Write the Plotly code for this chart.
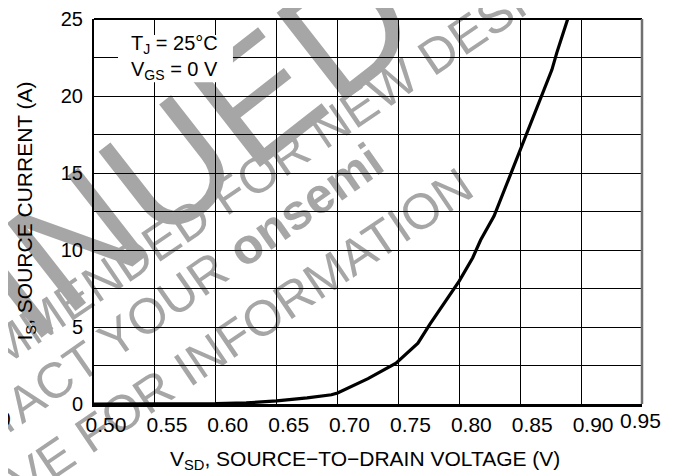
import plotly.graph_objects as go

# ---- data ----
vsd = [0.50, 0.55, 0.60, 0.625, 0.65, 0.675, 0.695, 0.70, 0.725, 0.748, 0.766, 0.776,
       0.80, 0.811, 0.8175, 0.8285, 0.848, 0.859, 0.870, 0.876, 0.880, 0.889]
i_s = [0.0, 0.0, 0.02, 0.07, 0.2, 0.4, 0.6, 0.72, 1.65, 2.65, 3.95, 5.2,
       8.0, 9.5, 10.65, 12.2, 16.1, 18.2, 20.4, 21.7, 22.8, 25.0]

x_ticks = [0.50, 0.55, 0.60, 0.65, 0.70, 0.75, 0.80, 0.85, 0.90, 0.95]
x_labels = ["0.50", "0.55", "0.60", "0.65", "0.70", "0.75", "0.80", "0.85", "0.90", "0.95"]
y_ticks = [0, 5, 10, 15, 20, 25]
y_labels = ["0", "5", "10", "15", "20", "25"]

x_title = "V<sub>SD</sub>, SOURCE\u2212TO\u2212DRAIN VOLTAGE (V)"
y_title = "I<sub>S</sub>, SOURCE CURRENT (A)"
cond_text = "T<sub>J</sub> = 25\u00b0C<br>V<sub>GS</sub> = 0 V"
wm_big = "DISCONTINUED"
wm_lines = ["NOT RECOMMENDED FOR NEW DESIGN",
            "PLEASE CONTACT YOUR <b>onsemi</b>",
            "REPRESENTATIVE FOR INFORMATION"]

FONT = "Liberation Sans, Arial, Helvetica, sans-serif"
WM = "#a6a6a6"

# the page body adds an 8 px offset; plot area in window pixels: x 94..642, y 19..404
OFF = 8
PL, PT, PR, PB = 94, 19, 642, 404
W, H = 674 - OFF, 476 - OFF
L, T = PL - OFF, PT - OFF
R, B = W - (PR - OFF), H - (PB - OFF)


def px2paper(px, py):
    return (px - PL) / (PR - PL), (PB - py) / (PB - PT)


fig = go.Figure()
fig.add_trace(go.Scatter(x=vsd, y=i_s, mode="lines",
                         line=dict(color="black", width=3.2),
                         hoverinfo="skip", showlegend=False))


def wm_shape(text, cx, cy, size, angle):
    xp, yp = px2paper(cx, cy)
    return dict(type="rect", xref="paper", yref="paper",
                x0=xp - 0.001, x1=xp + 0.001, y0=yp - 0.001, y1=yp + 0.001,
                line=dict(width=0), fillcolor="rgba(0,0,0,0)", layer="below",
                label=dict(text=text, textposition="middle center", textangle=-angle,
                           font=dict(size=size, color=WM, family=FONT)))


shapes = [
    wm_shape(wm_big, -103, 360, 162, 38),
    wm_shape(wm_lines[0], 175, 225, 50, 34),
    wm_shape(wm_lines[1], 50, 378, 50, 35),
    wm_shape(wm_lines[2], 82, 434, 50, 34),
    # white box behind the conditions text
    dict(type="rect", xref="x", yref="y", x0=0.5197, x1=0.6141, y0=20.9, y1=23.96,
         line=dict(width=0), fillcolor="white", layer="above"),
    # frame: top and right
    dict(type="line", xref="paper", yref="paper", x0=0, x1=1, y0=1, y1=1,
         line=dict(color="black", width=2), layer="above"),
    dict(type="line", xref="paper", yref="paper", x0=1, x1=1, y0=0, y1=1,
         line=dict(color="#707070", width=2.5), layer="above"),
]

annotations = [
    dict(text=cond_text, x=0.5287, y=22.5, xref="x", yref="y", xanchor="left",
         yanchor="middle", align="left", showarrow=False,
         font=dict(size=20, color="black", family=FONT)),
    dict(text=x_title, x=0.495, y=px2paper(0, 460)[1], xref="paper", yref="paper",
         xanchor="center", yanchor="middle", showarrow=False,
         font=dict(size=21, color="black", family=FONT)),
    dict(text=y_title, x=px2paper(25, 0)[0], y=0.5, xref="paper", yref="paper",
         xanchor="center", yanchor="middle", textangle=-90, showarrow=False,
         font=dict(size=21, color="black", family=FONT)),
    # last x tick label sits squeezed against the right edge
    dict(text=x_labels[-1], x=x_ticks[-1], y=px2paper(0, 421)[1], xref="x", yref="paper",
         xanchor="center", yanchor="middle", xshift=-2, showarrow=False,
         font=dict(size=21, color="black", family=FONT)),
    # clipped stray label at the far left
    dict(text="0", x=px2paper(13, 0)[0], y=px2paper(0, 419)[1], xref="paper", yref="paper",
         xanchor="right", yanchor="middle", showarrow=False,
         font=dict(size=21, color="black", family=FONT)),
]

fig.update_layout(
    width=W, height=H, autosize=False,
    margin=dict(l=L, r=R, t=T, b=B, pad=0, autoexpand=False),
    paper_bgcolor="white", plot_bgcolor="rgba(0,0,0,0)",
    font=dict(family=FONT, color="black"),
    shapes=shapes, annotations=annotations, showlegend=False,
)

fig.update_xaxes(
    range=[x_ticks[0], x_ticks[-1]], tickmode="array", tickvals=x_ticks,
    ticktext=x_labels[:-1] + [" "], ticks="", ticklabelshift=12, ticklabelstandoff=0,
    tickfont=dict(size=21, family=FONT, color="black"), automargin=False,
    showgrid=True, gridcolor="black", gridwidth=1,
    showline=True, linecolor="black", linewidth=2.5, zeroline=False, mirror=False,
    fixedrange=True,
)
fig.update_yaxes(
    range=[y_ticks[0], y_ticks[-1]], tickmode="array", tickvals=y_ticks,
    ticktext=y_labels, ticks="", ticklabelstandoff=5,
    tickfont=dict(size=20, family=FONT, color="black"), automargin=False,
    showgrid=True, gridcolor="black", gridwidth=1,
    minor=dict(dtick=2.5, tick0=0, showgrid=True, gridcolor="black", gridwidth=1, ticks=""),
    showline=True, linecolor="black", linewidth=2, zeroline=False, mirror=False,
    fixedrange=True,
)

fig.write_html("out.html")
